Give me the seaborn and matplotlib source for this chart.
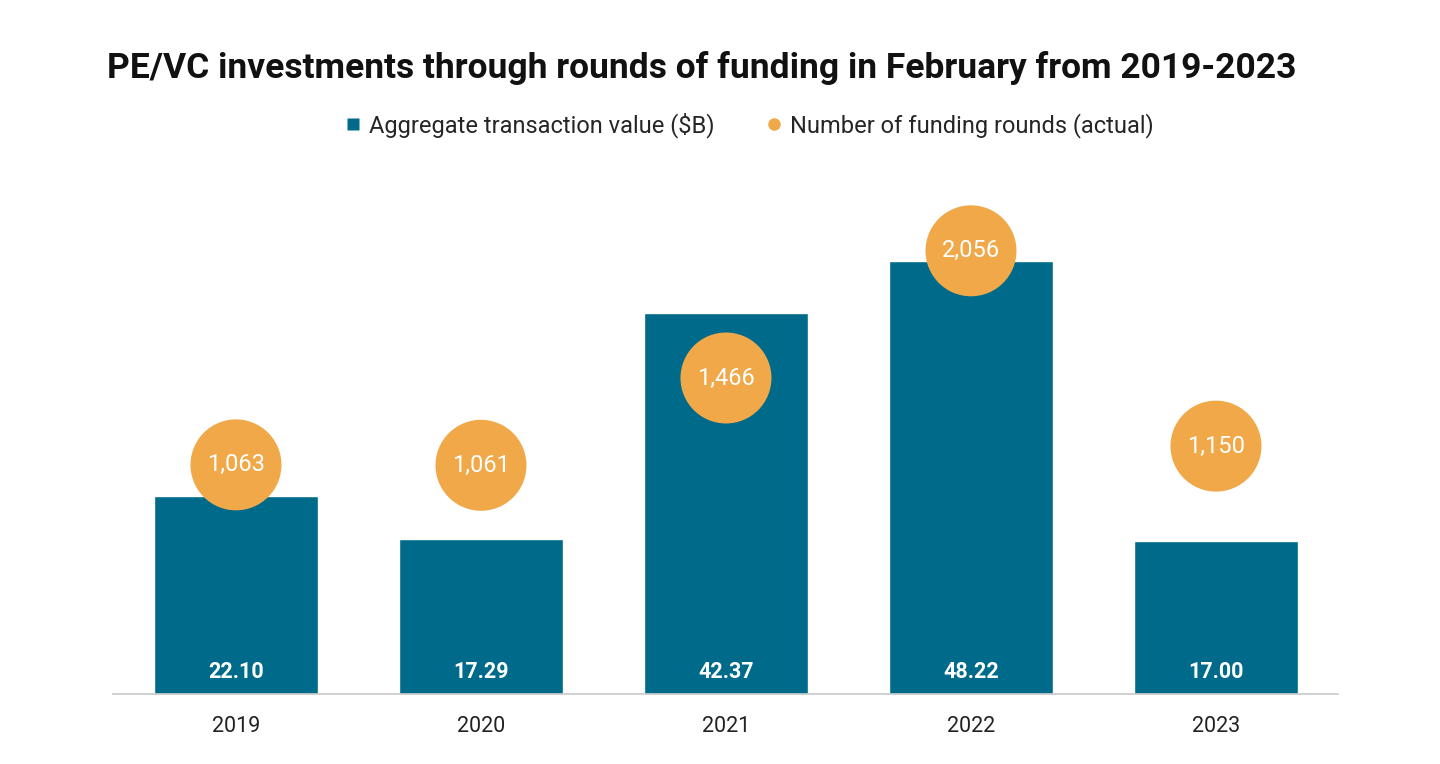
import matplotlib
matplotlib.use("Agg")
import matplotlib.pyplot as plt
import seaborn as sns
import pandas as pd
from matplotlib.lines import Line2D

years = ["2019", "2020", "2021", "2022", "2023"]
agg_value = [22.10, 17.29, 42.37, 48.22, 17.00]
rounds = [1063, 1061, 1466, 2056, 1150]

title = "PE/VC investments through rounds of funding in February from 2019-2023"
bar_label = "Aggregate transaction value ($B)"
dot_label = "Number of funding rounds (actual)"

BAR_C = "#006A8A"
DOT_C = "#F0A848"

sns.set_theme(style="white")
plt.rcParams['font.family'] = ['Roboto', 'DejaVu Sans']

df = pd.DataFrame({"year": years, "value": agg_value, "rounds": rounds})

fig = plt.figure(figsize=(14.4, 7.64), dpi=100)
ax = fig.add_axes([0.0788, 0.0916, 0.8507, 0.7054])
sns.barplot(data=df, x="year", y="value", color=BAR_C, width=0.67,
            saturation=1, ax=ax, zorder=2)
ax.set_ylim(0, 60)
ax.set_xlim(-0.5, 4.5)
ax.set_xlabel("")
ax.set_ylabel("")
ax.set_yticks([])
for s in ["top", "right", "left"]:
    ax.spines[s].set_visible(False)
ax.spines["bottom"].set_color("#C8C8C8")
ax.spines["bottom"].set_linewidth(1.2)
ax.tick_params(axis="x", length=0, pad=16, labelsize=15.5, colors="#222222")

for i, v in enumerate(agg_value):
    ax.text(i, 2.4, f"{v:.2f}", ha="center", va="center", color="white",
            fontsize=15.5, fontweight="bold")

ax2 = ax.twinx()
sns.scatterplot(x=list(range(len(years))), y=rounds, ax=ax2, s=4290,
                color=DOT_C, edgecolor="none", zorder=3, legend=False)
ax2.set_ylim(0, 2500)
ax2.set_xlim(-0.5, 4.5)
ax2.set_yticks([])
ax2.set_ylabel("")
for s in ["top", "right", "left", "bottom"]:
    ax2.spines[s].set_visible(False)
for i, r in enumerate(rounds):
    ax2.text(i, r, f"{r:,}", ha="center", va="center", color="white",
             fontsize=17)

fig.text(0.487, 0.911, title, ha="center", va="center", fontsize=25.5,
         fontweight="bold", color="#111111")

handles = [
    Line2D([], [], marker="s", linestyle="none", markersize=9,
           markerfacecolor=BAR_C, markeredgecolor="none", label=bar_label),
    Line2D([], [], marker="o", linestyle="none", markersize=9,
           markerfacecolor=DOT_C, markeredgecolor="none", label=dot_label),
]
fig.legend(handles=handles, loc="center", bbox_to_anchor=(0.519, 0.836),
           ncol=2, frameon=False, fontsize=17, handletextpad=0.2,
           columnspacing=2.0, handlelength=1.0)

fig.savefig("out.png", dpi=100, facecolor="white")
